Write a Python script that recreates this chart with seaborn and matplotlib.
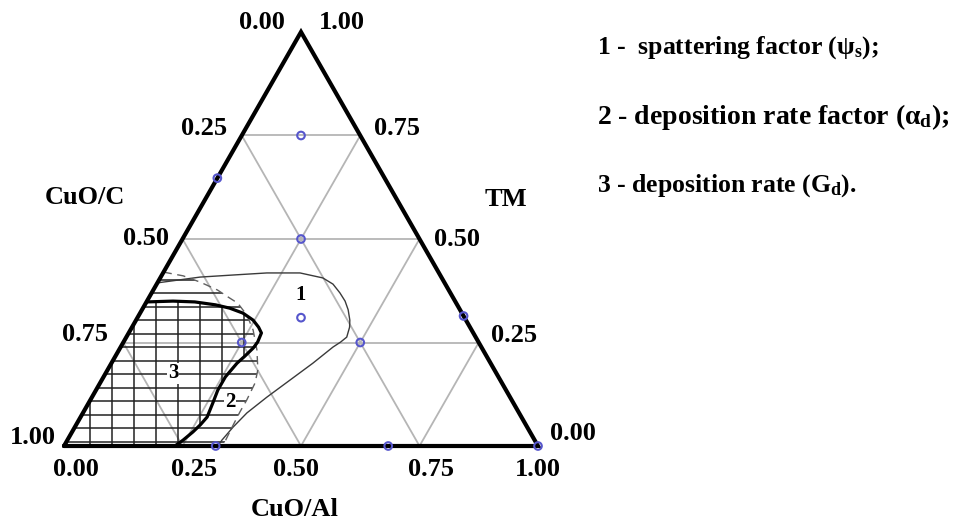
import numpy as np
import pandas as pd
import matplotlib.pyplot as plt
import seaborn as sns
from matplotlib.patches import Polygon

# ternary values: CuO/Al and TM (CuO/C = 1 - CuO/Al - TM)
ticks = [0.0, 0.25, 0.5, 0.75, 1.0]
tick_labels = ['0.00', '0.25', '0.50', '0.75', '1.00']

# curve 1 - spattering factor
c1_al = [0.000, 0.083, 0.150, 0.219, 0.289, 0.343, 0.372, 0.397, 0.418, 0.435, 0.451, 0.459,
         0.465, 0.458, 0.448, 0.425, 0.397, 0.369, 0.346, 0.334, 0.326, 0.325]
c1_tm = [0.394, 0.408, 0.413, 0.418, 0.418, 0.406, 0.391, 0.370, 0.350, 0.329, 0.304, 0.287,
         0.263, 0.251, 0.239, 0.200, 0.159, 0.118, 0.080, 0.046, 0.014, 0.000]

# curve 2 - deposition rate factor
c2_al = [0.000, 0.046, 0.089, 0.135, 0.166, 0.194, 0.228, 0.259, 0.291, 0.317, 0.327, 0.330,
         0.330, 0.332, 0.335]
c2_tm = [0.420, 0.411, 0.396, 0.377, 0.360, 0.345, 0.316, 0.280, 0.232, 0.184, 0.152, 0.111,
         0.082, 0.043, 0.000]

# curve 3 - deposition rate
c3_al = [0.000, 0.055, 0.102, 0.149, 0.183, 0.217, 0.247, 0.267, 0.280, 0.283, 0.281, 0.273,
         0.265, 0.257, 0.257, 0.262, 0.267, 0.262, 0.255, 0.244, 0.234]
c3_tm = [0.348, 0.350, 0.348, 0.341, 0.333, 0.321, 0.304, 0.287, 0.273, 0.251, 0.237, 0.217,
         0.200, 0.167, 0.135, 0.104, 0.070, 0.051, 0.034, 0.014, 0.000]

# experiment points
pts_al = [0.125, 0.000, 0.250, 0.345, 0.250, 0.500, 0.686, 0.320, 0.684, 1.000]
pts_tm = [0.750, 0.647, 0.500, 0.310, 0.250, 0.250, 0.314, 0.000, 0.000, 0.000]

region_labels = ['1', '2', '3']
region_al = [0.316, 0.297, 0.142]
region_tm = [0.365, 0.106, 0.176]

legend_lines = ['1 -  spattering factor ($ψ_s$);',
                '2 - deposition rate factor ($α_d$);',
                '3 - deposition rate ($G_d$).']


def tern(al, tm):
    al = np.asarray(al, dtype=float)
    tm = np.asarray(tm, dtype=float)
    return al + tm / 2, tm


sns.set_theme(style='white')
plt.rcParams['font.family'] = ['Liberation Serif', 'DejaVu Serif']
plt.rcParams['font.weight'] = 'bold'
plt.rcParams['text.color'] = 'black'
plt.rcParams['mathtext.fontset'] = 'custom'
plt.rcParams['mathtext.rm'] = 'Liberation Serif:bold'
plt.rcParams['mathtext.it'] = 'Liberation Serif:bold'
plt.rcParams['mathtext.bf'] = 'Liberation Serif:bold'

W, H = 955, 519
fig = plt.figure(figsize=(W / 100, H / 100), dpi=100)
ax = fig.add_axes([0, 0, 1, 1])
# triangle base 64..538 px, base at y=446 px, apex at y=32 px
ax.set_xlim(-64 / 474, (W - 64) / 474)
ax.set_ylim(-(H - 446) / 414, 446 / 414)
ax.axis('off')

grid_kw = dict(color='#b5b5b5', lw=1.3, zorder=1)
for v in ticks[1:-1]:
    ax.plot(*tern([0, 1 - v], [v, v]), **grid_kw)
    ax.plot(*tern([v, v], [0, 1 - v]), **grid_kw)
    ax.plot(*tern([1 - v, 0], [0, 1 - v]), **grid_kw)

# hatching of regions 2 and 3
x2, y2 = tern(c2_al + [0], c2_tm + [0])
x3, y3 = tern(c3_al + [0], c3_tm + [0])
reg2 = Polygon(np.column_stack([x2, y2]), closed=True, fc='none', ec='none')
reg3 = Polygon(np.column_stack([x3, y3]), closed=True, fc='none', ec='none')
ax.add_patch(reg2)
ax.add_patch(reg3)
for hy in np.arange(0.01, 0.45, 0.0326):
    ln, = ax.plot([0, 0.6], [hy, hy], color='#222222', lw=1.1, zorder=2)
    ln.set_clip_path(reg2)
for hx in np.arange(0.055, 0.45, 0.0464):
    ln, = ax.plot([hx, hx], [0, 0.5], color='#222222', lw=1.1, zorder=2)
    ln.set_clip_path(reg3)

x, y = tern(c1_al, c1_tm)
sns.lineplot(data=pd.DataFrame({'x': x, 'y': y}), x='x', y='y', sort=False, estimator=None,
             color='#3a3a3a', lw=1.0, ax=ax, zorder=3)
x, y = tern(c2_al, c2_tm)
sns.lineplot(data=pd.DataFrame({'x': x, 'y': y}), x='x', y='y', sort=False, estimator=None,
             color='#606060', lw=1.0, linestyle=(0, (6, 4)), ax=ax, zorder=3)
x, y = tern(c3_al, c3_tm)
sns.lineplot(data=pd.DataFrame({'x': x, 'y': y}), x='x', y='y', sort=False, estimator=None,
             color='black', lw=2.3, ax=ax, zorder=3)

# triangle frame
ax.plot(*tern([0, 1, 0, 0], [0, 0, 1, 0]), color='black', lw=3.0, zorder=4,
        solid_joinstyle='miter')

x, y = tern(pts_al, pts_tm)
sns.scatterplot(x=x, y=y, s=30, marker='o', ax=ax, zorder=5)
pc = ax.collections[-1]
pc.set_facecolor('none')
pc.set_edgecolor('#5656cc')
pc.set_linewidth(1.5)

fs = 19
# tick labels (offsets in pixels from each tick point)
left_off = [(-39, 9), (-38, 7), (-37, 0), (-38, 8), (-31, 9)]
right_off = [(35, 13), (35, 7), (37, -1), (37, 7), (41, 9)]
bottom_off = [(12, -23), (12, -23), (-5, -23), (11, -23), (0, -23)]
for v, lab, lo, ro, bo in zip(ticks, tick_labels, left_off, right_off, bottom_off):
    ax.annotate(lab, tern(0, 1 - v), xytext=(lo[0] * 0.72, lo[1] * 0.72),
                textcoords='offset points', ha='center', va='center', fontsize=fs)
    ax.annotate(lab, tern(1 - v, v), xytext=(ro[0] * 0.72, ro[1] * 0.72),
                textcoords='offset points', ha='center', va='center', fontsize=fs)
    ax.annotate(lab, tern(v, 0), xytext=(bo[0] * 0.72, bo[1] * 0.72),
                textcoords='offset points', ha='center', va='center', fontsize=fs)

fig.text(85 / W, 1 - 197 / H, 'CuO/C', ha='center', va='center', fontsize=fs)
fig.text(506 / W, 1 - 200 / H, 'TM', ha='center', va='center', fontsize=fs)
fig.text(295 / W, 1 - 509 / H, 'CuO/Al', ha='center', va='center', fontsize=fs)

x, y = tern(region_al, region_tm)
for lab, xx, yy in zip(region_labels, x, y):
    ax.text(xx, yy, lab, ha='center', va='center', fontsize=15, zorder=6,
            bbox=dict(fc='white', ec='none', pad=0.5))

legend_sizes = [18.5, 20, 18.5]
for i, (line, size) in enumerate(zip(legend_lines, legend_sizes)):
    fig.text(597 / W, 1 - (48 + 69 * i) / H, line, ha='left', va='center', fontsize=size)

fig.savefig('out.png', dpi=100)
